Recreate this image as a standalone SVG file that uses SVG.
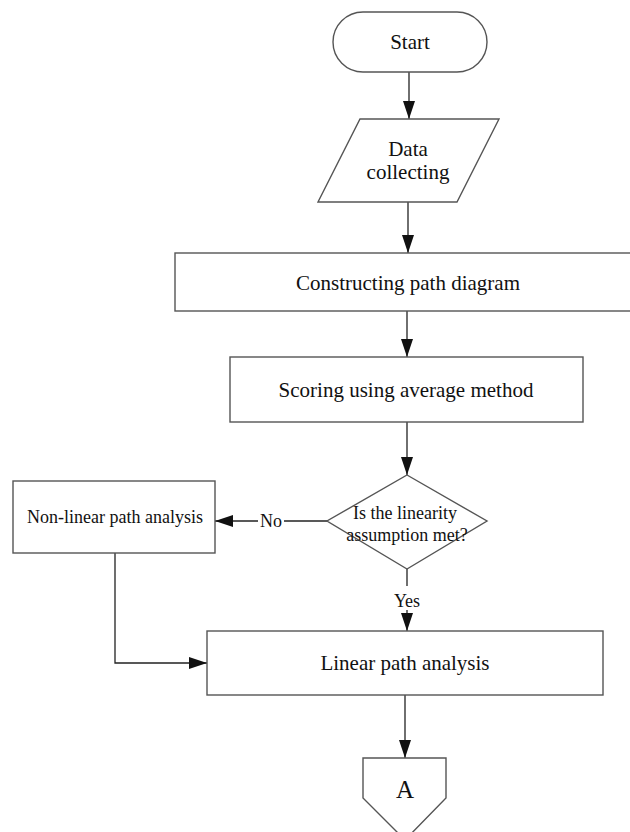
<svg xmlns="http://www.w3.org/2000/svg" width="630" height="832" viewBox="0 0 630 832">
<style>
.s{fill:#fff;stroke:#555;stroke-width:1.4}
.c{fill:none;stroke:#222;stroke-width:1.3}
.t{font-family:"Liberation Serif","Times New Roman",serif;fill:#111;text-anchor:middle}
.f20{font-size:21px}
.f18{font-size:18px}
</style>
<defs>
<marker id="ah" viewBox="0 0 18 12" refX="18" refY="6" markerWidth="18" markerHeight="12" markerUnits="userSpaceOnUse" orient="auto">
<path d="M0,0 L18,6 L0,12 Z" fill="#111"/>
</marker>
</defs>
<rect width="630" height="832" fill="#fff"/>
<g id="connectors">
<line class="c" x1="409" y1="72" x2="409" y2="119" marker-end="url(#ah)"/>
<line class="c" x1="408" y1="202" x2="408" y2="253" marker-end="url(#ah)"/>
<line class="c" x1="407" y1="311" x2="407" y2="357" marker-end="url(#ah)"/>
<line class="c" x1="407" y1="422" x2="407" y2="475" marker-end="url(#ah)"/>
<line class="c" x1="327" y1="521" x2="284" y2="521"/>
<line class="c" x1="258" y1="521" x2="215" y2="521" marker-end="url(#ah)"/>
<text class="t f18" x="271" y="527">No</text>
<line class="c" x1="407" y1="569" x2="407" y2="586"/>
<line class="c" x1="407" y1="610" x2="407" y2="631" marker-end="url(#ah)"/>
<text class="t f18" x="407" y="607">Yes</text>
<polyline class="c" points="115,553 115,663 207,663" marker-end="url(#ah)"/>
<line class="c" x1="405" y1="695" x2="405" y2="758" marker-end="url(#ah)"/>
</g>
<g id="start">
<rect class="s" x="333" y="12" width="154" height="60" rx="30" ry="30"/>
<text class="t f20" x="410" y="49">Start</text>
</g>
<g id="data">
<polygon class="s" points="360,119 499,119 457,202 318,202"/>
<text class="t f20" x="408" y="156">Data</text>
<text class="t f20" x="408" y="179">collecting</text>
</g>
<g id="constructing">
<rect class="s" x="175" y="253" width="466" height="58"/>
<text class="t f20" x="408" y="290">Constructing path diagram</text>
</g>
<g id="scoring">
<rect class="s" x="230" y="357" width="353" height="65"/>
<text class="t f20" x="406" y="397">Scoring using average method</text>
</g>
<g id="decision">
<polygon class="s" points="407,475 487,521 407,569 327,521"/>
<text class="t f18" x="405" y="519">Is the linearity</text>
<text class="t f18" x="407" y="541">assumption met?</text>
</g>
<g id="nonlinear">
<rect class="s" x="13" y="481" width="202" height="72"/>
<text class="t f18" x="115" y="523">Non-linear path analysis</text>
</g>
<g id="linear">
<rect class="s" x="207" y="631" width="396" height="64"/>
<text class="t f20" x="405" y="670">Linear path analysis</text>
</g>
<g id="connectorA">
<polygon class="s" points="363,758 446,758 446,798 405,840 363,798"/>
<text class="t" style="font-size:25px" x="405" y="798">A</text>
</g>
</svg>
